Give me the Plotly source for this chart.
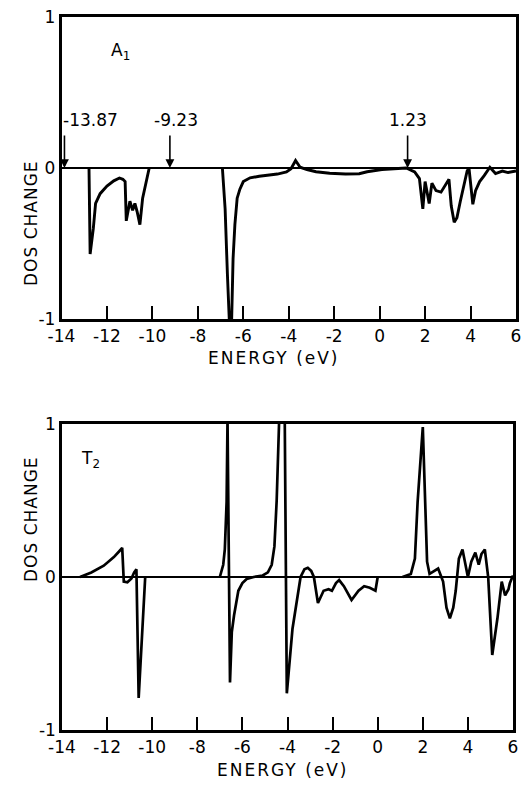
import plotly.graph_objects as go

# ---------------- data ----------------
a1_energy = [-12.79, -12.74, -12.6, -12.5, -12.3, -12.0, -11.7, -11.45, -11.3, -11.2,
             -11.15, -10.99, -10.87, -10.77, -10.67, -10.55, -10.43, -10.29, -10.14,
             None,
             -6.92, -6.8, -6.7, -6.62, -6.55, -6.45, -6.37, -6.27, -6.15, -6.0,
             -5.7, -5.3, -4.98, -4.5, -4.1, -3.9, -3.7, -3.5, -3.2, -2.8,
             -2.2, -1.5, -0.9, -0.55, 0.1, 0.6, 1.17, 1.54, 1.75, 1.9,
             2.0, 2.18, 2.3, 2.48, 2.7, 3.05, 3.15, 3.28, 3.4, 3.55,
             3.7, 3.85, 3.93, 4.02, 4.1, 4.22, 4.4, 4.6, 4.85, 5.1,
             5.4, 5.65, 6.0]
a1_dos = [0.0, -0.57, -0.40, -0.235, -0.17, -0.12, -0.085, -0.066, -0.075, -0.09,
          -0.35, -0.22, -0.28, -0.235, -0.29, -0.375, -0.2, -0.11, 0.0,
          None,
          0.0, -0.27, -0.7, -1.25, -1.25, -0.6, -0.375, -0.2, -0.14, -0.09,
          -0.065, -0.055, -0.05, -0.04, -0.026, -0.005, 0.05, 0.005, -0.01, -0.025,
          -0.035, -0.04, -0.038, -0.025, -0.01, -0.005, 0.0, -0.026, -0.07, -0.27,
          -0.09, -0.235, -0.10, -0.15, -0.16, -0.075, -0.25, -0.36, -0.33, -0.22,
          -0.12, -0.02, 0.0, -0.15, -0.24, -0.15, -0.09, -0.05, 0.005, -0.037,
          -0.02, -0.03, -0.02]

t2_energy = [-13.2, -12.7, -12.15, -11.7, -11.45, -11.33, -11.26, -11.1, -10.92, -10.8,
             -10.7, -10.6, -10.31,
             None,
             -7.0, -6.85, -6.78, -6.7, -6.66, -6.55, -6.47, -6.37, -6.18, -6.0,
             -5.81, -5.5, -5.1, -4.87, -4.7, -4.58, -4.48, -4.38, -4.25, -4.12,
             -4.03, -3.78, -3.56, -3.42, -3.25, -3.1, -2.95, -2.83, -2.65, -2.4,
             -2.18, -2.03, -1.85, -1.71, -1.5, -1.16, -0.85, -0.6, -0.35, -0.1,
             0.0,
             None,
             1.1, 1.47, 1.65, 1.77, 2.0, 2.19, 2.3, 2.45, 2.68, 2.9,
             3.05, 3.2, 3.35, 3.46, 3.6, 3.76, 3.9, 4.0, 4.15, 4.33,
             4.48, 4.6, 4.75, 4.9, 5.08, 5.31, 5.5, 5.65, 5.8, 5.86, 6.0]
t2_dos = [0.0, 0.03, 0.074, 0.13, 0.17, 0.19, -0.03, -0.035, -0.01, 0.03,
          0.05, -0.79, 0.0,
          None,
          0.0, 0.08, 0.18, 0.49, 1.03, -0.69, -0.36, -0.25, -0.09, -0.04,
          -0.013, 0.0, 0.01, 0.03, 0.08, 0.2, 0.5, 1.0, 1.6, 1.0,
          -0.76, -0.34, -0.12, 0.0, 0.05, 0.06, 0.04, 0.0, -0.17, -0.09,
          -0.08, -0.09, -0.04, -0.02, -0.06, -0.15, -0.09, -0.06, -0.07, -0.09,
          0.0,
          None,
          0.0, 0.02, 0.12, 0.49, 0.98, 0.1, 0.02, 0.035, 0.055, -0.03,
          -0.2, -0.27, -0.2, -0.09, 0.12, 0.18, 0.08, 0.0, 0.1, 0.16,
          0.08, 0.15, 0.18, 0.0, -0.51, -0.27, -0.03, -0.12, -0.08, -0.04, 0.01]

arrow_energies = [-13.87, -9.23, 1.23]
arrow_labels = ["-13.87", "-9.23", "1.23"]

x_tick_vals = [-14, -12, -10, -8, -6, -4, -2, 0, 2, 4, 6]
x_tick_text = ["-14", "-12", "-10", "-8", "-6", "-4", "-2", "0", "2", "4", "6"]
y_tick_vals = [-1, 0, 1]
y_tick_text = ["-1", "0", "1"]

panel_labels = ["A<sub>1</sub>", "T<sub>2</sub>"]
x_title = "ENERGY (eV)"
y_title = "DOS CHANGE"

# ---------------- figure ----------------
W, H = 525, 792
FONT = "DejaVu Sans"
FS = 17

fig = go.Figure()
fig.add_trace(go.Scatter(x=a1_energy, y=a1_dos, mode="lines", xaxis="x", yaxis="y",
                         line=dict(color="black", width=2.9), connectgaps=False,
                         showlegend=False, hoverinfo="skip"))
fig.add_trace(go.Scatter(x=t2_energy, y=t2_dos, mode="lines", xaxis="x2", yaxis="y2",
                         line=dict(color="black", width=2.7), connectgaps=False,
                         showlegend=False, hoverinfo="skip"))

def xax(domain, anchor):
    return dict(domain=domain, anchor=anchor, range=[-14, 6], showgrid=False,
                zeroline=False, showline=True, mirror=True, linecolor="black",
                linewidth=2.5, ticks="inside", ticklen=13, tickwidth=1.6,
                tickcolor="black", tickvals=x_tick_vals, ticktext=x_tick_text,
                tickfont=dict(family=FONT, size=FS, color="black"),
                automargin=False, fixedrange=True)

def yax(domain, anchor):
    return dict(domain=domain, anchor=anchor, range=[-1, 1], showgrid=False,
                zeroline=True, zerolinecolor="black", zerolinewidth=1.6,
                showline=True, mirror=True, linecolor="black", linewidth=2.5,
                ticks="", tickvals=y_tick_vals, ticktext=y_tick_text,
                tickfont=dict(family=FONT, size=FS, color="black"),
                automargin=False, fixedrange=True)

top_x = [61.5 / W, 516 / W]
top_y = [1 - 319 / H, 1 - 17 / H]
bot_x = [62 / W, 513 / W]
bot_y = [1 - 730 / H, 1 - 424 / H]

fig.update_layout(
    width=W, height=H,
    margin=dict(l=0, r=0, t=0, b=0),
    paper_bgcolor="white", plot_bgcolor="white",
    xaxis=xax(top_x, "y"), yaxis=yax(top_y, "x"),
    xaxis2=xax(bot_x, "y2"), yaxis2=yax(bot_y, "x2"),
    showlegend=False,
)

ann = []
# arrows in A1 panel
for e, lab in zip(arrow_energies, arrow_labels):
    ann.append(dict(x=e, y=0, xref="x", yref="y", ax=0, ay=-34, text="",
                    showarrow=True, arrowhead=2, arrowsize=1.1, arrowwidth=1.6,
                    arrowcolor="black", standoff=0))
label_anchor = ["left", "center", "center"]
label_shift = [-3, 6, 0]
for e, lab, anc, sh in zip(arrow_energies, arrow_labels, label_anchor, label_shift):
    ann.append(dict(x=e, y=0, xref="x", yref="y", text=lab, showarrow=False,
                    xanchor=anc, yanchor="bottom", yshift=36, xshift=sh,
                    font=dict(family=FONT, size=FS, color="black")))

# panel labels
ann.append(dict(x=-11.4, y=0.77, xref="x", yref="y", text=panel_labels[0],
                showarrow=False, font=dict(family=FONT, size=FS, color="black")))
ann.append(dict(x=-12.75, y=0.77, xref="x2", yref="y2", text=panel_labels[1],
                showarrow=False, font=dict(family=FONT, size=FS, color="black")))

# axis titles
xt = '<span style="letter-spacing:2px">' + x_title + '</span>'
yt = '<span style="letter-spacing:1px">' + y_title + '</span>'
ann.append(dict(x=273 / W, y=1 - 358 / H, xref="paper", yref="paper", text=xt,
                showarrow=False, font=dict(family=FONT, size=FS, color="black")))
ann.append(dict(x=282 / W, y=1 - 782 / H, xref="paper", yref="paper", text=xt,
                showarrow=False, font=dict(family=FONT, size=FS, color="black")))
ann.append(dict(x=19 / W, y=1 - 158 / H, xref="paper", yref="paper", text=yt,
                textangle=-90, showarrow=False,
                font=dict(family=FONT, size=FS, color="black")))
ann.append(dict(x=19 / W, y=1 - 584 / H, xref="paper", yref="paper", text=yt,
                textangle=-90, showarrow=False,
                font=dict(family=FONT, size=FS, color="black")))

fig.update_layout(annotations=ann)
fig.write_html("out.html", config={"displayModeBar": False},
               post_script="document.body.style.margin='0';document.body.style.overflow='hidden';")
